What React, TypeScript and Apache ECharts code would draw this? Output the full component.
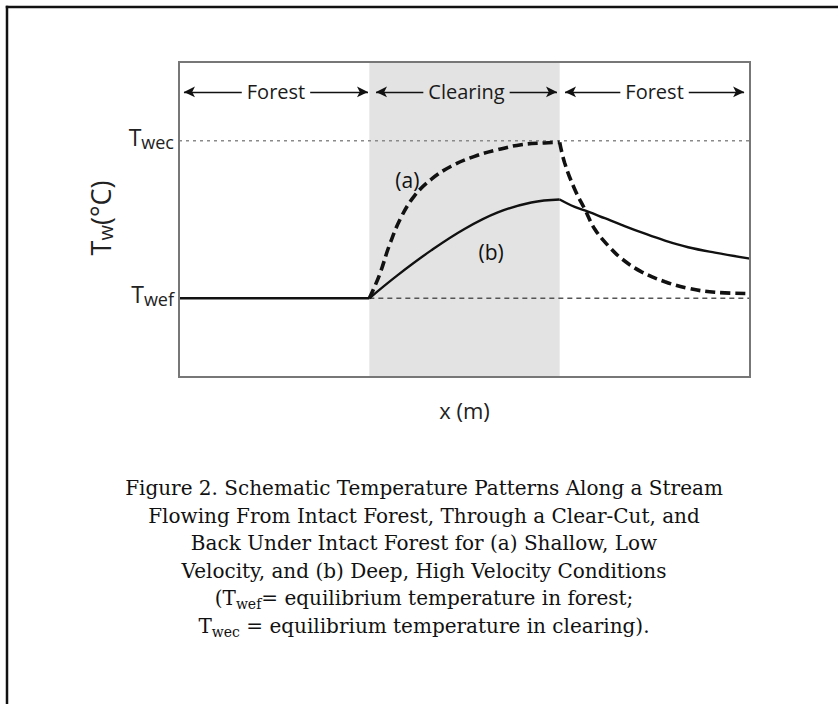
import React, { useEffect, useRef } from "react";
import * as echarts from "echarts";

// ---- data (x in reach units: forest 0-1, clearing 1-2, forest 2-3; y: 0 = Twef, 1 = Twec)
const X_RANGE = [0, 3];
const Y_RANGE = [-0.5, 1.5];
const clearingRange = [1, 2];
const twefValue = 0;
const twecValue = 1;
const yTickValues = [0, 1];
const yTickSubs = ["wef", "wec"];

const forestUpstream = [[0, 0], [1, 0]];
const curveARise = [[1, 0], [1.053, 0.147], [1.105, 0.335], [1.167, 0.514], [1.237, 0.65], [1.325, 0.755], [1.43, 0.838], [1.553, 0.901], [1.674, 0.943], [1.798, 0.975], [1.921, 0.986], [2, 0.99]];
const curveAFall = [[2, 0.99], [2.026, 0.86], [2.079, 0.692], [2.132, 0.566], [2.184, 0.44], [2.254, 0.335], [2.325, 0.252], [2.43, 0.168], [2.553, 0.105], [2.675, 0.063], [2.816, 0.038], [3, 0.03]];
const curveBRise = [[1, 0], [1.149, 0.147], [1.325, 0.304], [1.5, 0.44], [1.675, 0.545], [1.851, 0.608], [2, 0.627]];
const curveBFall = [[2, 0.627], [2.079, 0.58], [2.149, 0.55], [2.237, 0.508], [2.325, 0.466], [2.43, 0.418], [2.553, 0.366], [2.675, 0.324], [2.816, 0.29], [3, 0.252]];

const zoneNames = ["Forest", "Clearing", "Forest"];
const zoneStarts = [0.026, 1.035, 2.028];
const zoneEnds = [0.993, 1.986, 2.969];
const zoneArrowY = 1.31;

const curveLabelText = ["(a)", "(b)"];
const curveLabelX = [1.2, 1.64];
const curveLabelY = [0.75, 0.294];

const xAxisTitle = "x (m)";
const captionLines = [
  "{n|Figure 2. Schematic Temperature Patterns Along a Stream}",
  "{n|Flowing From Intact Forest, Through a Clear-Cut, and}",
  "{n|Back Under Intact Forest for (a) Shallow, Low}",
  "{n|Velocity, and (b) Deep, High Velocity Conditions}",
  "{n|(T}{s|wef}{n|= equilibrium temperature in forest;}",
  "{n|T}{s|wec}{n| = equilibrium temperature in clearing).}",
];

const SANS = "'Open Sans', 'Noto Sans', sans-serif";
const SERIF = "'DejaVu Serif', serif";
const SHADE = "#e3e3e3";
const INK = "#111";

export default function App() {
  const ref = useRef<HTMLDivElement>(null);

  useEffect(() => {
    const chart = echarts.init(ref.current!, null, { renderer: "svg" });

    const captionTop = 488;
    const captionStep = 27.6;

    const option: any = {
      animation: false,
      backgroundColor: "#fff",
      grid: {
        left: 179,
        top: 62,
        width: 571,
        height: 315,
        show: true,
        borderColor: "#777",
        borderWidth: 2,
        backgroundColor: "transparent",
        z: 5,
      },
      xAxis: {
        type: "value",
        min: X_RANGE[0],
        max: X_RANGE[1],
        axisLine: { show: false },
        axisTick: { show: false },
        axisLabel: { show: false },
        splitLine: { show: false },
        name: xAxisTitle,
        nameLocation: "middle",
        nameGap: 22,
        nameTextStyle: { fontFamily: SANS, fontSize: 22, color: "#222", verticalAlign: "top" },
      },
      yAxis: {
        type: "value",
        min: Y_RANGE[0],
        max: Y_RANGE[1],
        interval: 0.5,
        axisLine: { show: false },
        axisTick: { show: false },
        splitLine: { show: false },
        axisLabel: {
          margin: 5,
          padding: [0, 0, 8, 0],
          formatter: (v: number) => {
            const i = yTickValues.indexOf(v);
            return i >= 0 ? `{t|T}{s|${yTickSubs[i]}}` : "";
          },
          rich: {
            t: { fontFamily: SANS, fontSize: 23, lineHeight: 28, color: "#222" },
            s: { fontFamily: SANS, fontSize: 18, lineHeight: 14, verticalAlign: "bottom", color: "#222" },
          },
        },
      },
      graphic: [
        { type: "line", shape: { x1: 5.75, y1: 7, x2: 838, y2: 7 }, style: { stroke: INK, lineWidth: 2.5 } },
        { type: "line", shape: { x1: 7, y1: 5.75, x2: 7, y2: 704 }, style: { stroke: INK, lineWidth: 2.5 } },
        {
          type: "text",
          x: 100,
          y: 218,
          rotation: Math.PI / 2,
          style: {
            text: "{t|T}{s|w}{t|(°C)}",
            align: "center",
            verticalAlign: "middle",
            rich: {
              t: { fontFamily: SANS, fontSize: 27, lineHeight: 30, fill: "#222", color: "#222" },
              s: { fontFamily: SANS, fontSize: 20, lineHeight: 15, verticalAlign: "bottom", fill: "#222", color: "#222" },
            },
          },
        },
        ...captionLines.map((line, i) => ({
          type: "text",
          x: 424,
          y: captionTop + i * captionStep,
          style: {
            text: line,
            align: "center",
            verticalAlign: "middle",
            rich: {
              n: { fontFamily: SERIF, fontSize: 20, lineHeight: 26, color: "#111", fill: "#111" },
              s: { fontFamily: SERIF, fontSize: 14, lineHeight: 13, verticalAlign: "bottom", color: "#111", fill: "#111" },
            },
          },
        })),
      ],
      series: [
        {
          name: "clearing",
          type: "line",
          z: 1,
          data: [],
          markArea: {
            silent: true,
            itemStyle: { color: SHADE },
            data: [[{ xAxis: clearingRange[0] }, { xAxis: clearingRange[1] }]],
          },
        },
        {
          name: "Twec",
          type: "line",
          z: 2,
          symbol: "none",
          data: [[X_RANGE[0], twecValue], [X_RANGE[1], twecValue]],
          lineStyle: { color: "#8a8a8a", width: 1.6, type: [3, 4] },
        },
        {
          name: "Twef",
          type: "line",
          z: 2,
          symbol: "none",
          data: [[clearingRange[0], twefValue], [X_RANGE[1], twefValue]],
          lineStyle: { color: "#555", width: 1.3, type: [5, 4] },
        },
        {
          name: "forest",
          type: "line",
          z: 3,
          symbol: "none",
          data: forestUpstream,
          lineStyle: { color: INK, width: 2.5 },
          markLine: {
            silent: true,
            symbol: ["arrow", "arrow"],
            symbolSize: [8, 11],
            lineStyle: { color: INK, width: 1.3, type: "solid" },
            label: {
              show: true,
              position: "middle",
              distance: 0,
              verticalAlign: "middle",
              formatter: "{b}",
              fontFamily: SANS,
              fontSize: 20,
              color: "#1a1a1a",
              backgroundColor: "#fff",
              padding: [2, 5],
            },
            data: zoneNames.map((name, i) => [
              { coord: [zoneStarts[i], zoneArrowY], name, label: { backgroundColor: i === 1 ? SHADE : "#fff" } },
              { coord: [zoneEnds[i], zoneArrowY] },
            ]),
          },
        },
        {
          name: "(b) rise",
          type: "line",
          z: 3,
          symbol: "none",
          smooth: 0.4,
          data: curveBRise,
          lineStyle: { color: INK, width: 2.4 },
        },
        {
          name: "(b) fall",
          type: "line",
          z: 3,
          symbol: "none",
          smooth: 0.4,
          data: curveBFall,
          lineStyle: { color: INK, width: 2.4 },
        },
        {
          name: "(a) rise",
          type: "line",
          z: 4,
          symbol: "none",
          smooth: 0.4,
          data: curveARise,
          lineStyle: { color: INK, width: 3.6, type: [10, 5] },
        },
        {
          name: "(a) fall",
          type: "line",
          z: 4,
          symbol: "none",
          smooth: 0.4,
          data: curveAFall,
          lineStyle: { color: INK, width: 3.6, type: [10, 5] },
        },
        {
          name: "labels",
          type: "scatter",
          z: 4,
          symbolSize: 1,
          itemStyle: { color: "transparent" },
          data: curveLabelText.map((t, i) => [curveLabelX[i], curveLabelY[i], t]),
          label: {
            show: true,
            position: "inside",
            formatter: (p: any) => p.value[2],
            fontFamily: SANS,
            fontSize: 21,
            color: "#111",
            opacity: 1,
          },
        },
      ],
    };

    chart.setOption(option);
    return () => chart.dispose();
  }, []);

  return (
    <div
      ref={ref}
      style={{ position: "fixed", left: 0, top: 0, width: 838, height: 704, background: "#fff" }}
    />
  );
}
